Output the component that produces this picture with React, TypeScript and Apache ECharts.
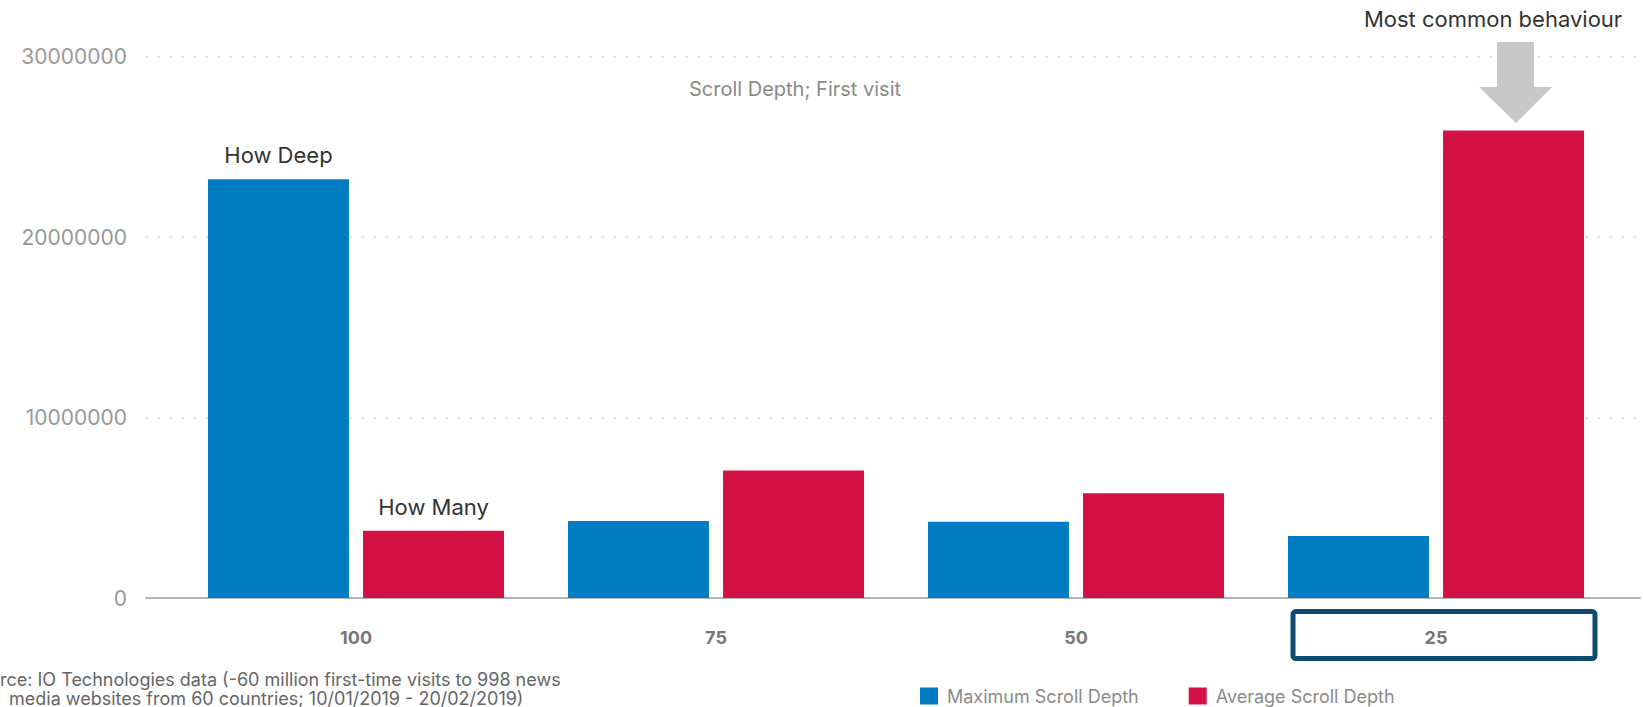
import React, { useEffect, useRef } from "react";
import * as echarts from "echarts";

const categories = ["100", "75", "50", "25"];
const maxScrollDepth = [23200000, 4270000, 4230000, 3430000];
const avgScrollDepth = [3720000, 7070000, 5800000, 25900000];
const maxNotes = ["How Deep", "", "", ""];
const avgNotes = ["How Many", "", "", ""];
const seriesNames = ["Maximum Scroll Depth", "Average Scroll Depth"];
const yTicks = { min: 0, max: 30000000, interval: 10000000 };
const chartTitle = "Scroll Depth; First visit";
const callout = "Most common behaviour";
const sourceLine1 = "rce: IO Technologies data (-60 million first-time visits to 998 news";
const sourceLine2 = "media websites from 60 countries; 10/01/2019 - 20/02/2019)";

const FONT = "Inter, 'DejaVu Sans', sans-serif";
const BLUE = "#007cc2";
const RED = "#d31145";

export default function App() {
  const ref = useRef<HTMLDivElement>(null);
  useEffect(() => {
    document.body.style.margin = "0";
    const chart = echarts.init(ref.current!, null, { renderer: "svg" });
    const top = 56.5;
    const bottom = 109;
    const noteLabel = (notes: string[]) => ({
      show: true,
      position: "top",
      distance: 13,
      fontFamily: FONT,
      fontSize: 22,
      color: "#333",
      formatter: (p: any) => notes[p.dataIndex],
    });
    const option: any = {
      animation: false,
      textStyle: { fontFamily: FONT },
      grid: [
        { left: 146, right: 3, top, bottom },
        { left: 176, right: 27, top, bottom },
      ],
      legend: {
        left: 920,
        top: 687,
        padding: 0,
        icon: "rect",
        itemWidth: 18,
        itemHeight: 17,
        itemGap: 50,
        data: seriesNames,
        textStyle: { fontFamily: FONT, fontSize: 18, color: "#8a8a8a", padding: [0, 0, 0, 4] },
      },
      xAxis: [
        {
          gridIndex: 0,
          type: "category",
          data: [""],
          axisLine: { show: true, lineStyle: { color: "#b5b5b5", width: 2 } },
          axisTick: { show: false },
          axisLabel: { show: false },
        },
        {
          gridIndex: 1,
          type: "category",
          data: categories,
          axisLine: { show: false },
          axisTick: { show: false },
          axisLabel: {
            margin: 30,
            fontFamily: FONT,
            fontSize: 18,
            fontWeight: "bold",
            color: "#777",
          },
        },
      ],
      yAxis: [
        {
          gridIndex: 0,
          type: "value",
          min: yTicks.min,
          max: yTicks.max,
          interval: yTicks.interval,
          axisLine: { show: false },
          axisTick: { show: false },
          axisLabel: {
            margin: 19,
            fontFamily: FONT,
            fontSize: 21,
            color: "#999",
            formatter: (v: number) => String(v),
          },
          splitLine: {
            show: true,
            lineStyle: { color: "#c8c8c8", width: 1.5, type: [1.5, 10.5] },
          },
        },
        {
          gridIndex: 1,
          type: "value",
          min: yTicks.min,
          max: yTicks.max,
          interval: yTicks.interval,
          show: false,
          splitLine: { show: false },
        },
      ],
      series: [
        {
          name: seriesNames[0],
          type: "bar",
          xAxisIndex: 1,
          yAxisIndex: 1,
          data: maxScrollDepth,
          barWidth: 141,
          barGap: "10%",
          itemStyle: { color: BLUE },
          label: noteLabel(maxNotes),
        },
        {
          name: seriesNames[1],
          type: "bar",
          xAxisIndex: 1,
          yAxisIndex: 1,
          data: avgScrollDepth,
          barWidth: 141,
          barGap: "10%",
          itemStyle: { color: RED },
          label: noteLabel(avgNotes),
        },
      ],
      graphic: [
        {
          type: "text",
          x: 795,
          y: 89,
          style: {
            text: chartTitle,
            fontFamily: FONT,
            fontSize: 20,
            fill: "#8a8a8a",
            align: "center",
            verticalAlign: "middle",
          },
        },
        {
          type: "text",
          x: 1493,
          y: 19,
          style: {
            text: callout,
            fontFamily: FONT,
            fontSize: 22,
            fill: "#333",
            align: "center",
            verticalAlign: "middle",
          },
        },
        {
          type: "polygon",
          shape: {
            points: [
              [1497, 42],
              [1534, 42],
              [1534, 87],
              [1552, 87],
              [1516, 123],
              [1479, 87],
              [1497, 87],
            ],
          },
          style: { fill: "#c8c8c8" },
        },
        {
          type: "rect",
          shape: { x: 1293, y: 611.5, width: 302, height: 47, r: 3 },
          style: { fill: "none", stroke: "#0c4a6e", lineWidth: 5 },
        },
        {
          type: "text",
          x: 0,
          y: 679,
          style: {
            text: sourceLine1,
            fontFamily: FONT,
            fontSize: 18,
            fill: "#666",
            verticalAlign: "middle",
          },
        },
        {
          type: "text",
          x: 9,
          y: 698,
          style: {
            text: sourceLine2,
            fontFamily: FONT,
            fontSize: 18,
            fill: "#666",
            verticalAlign: "middle",
          },
        },
      ],
    };
    chart.setOption(option);
    return () => chart.dispose();
  }, []);
  return (
    <div
      ref={ref}
      style={{ position: "absolute", left: 0, top: 0, width: 1643, height: 707 }}
    />
  );
}
